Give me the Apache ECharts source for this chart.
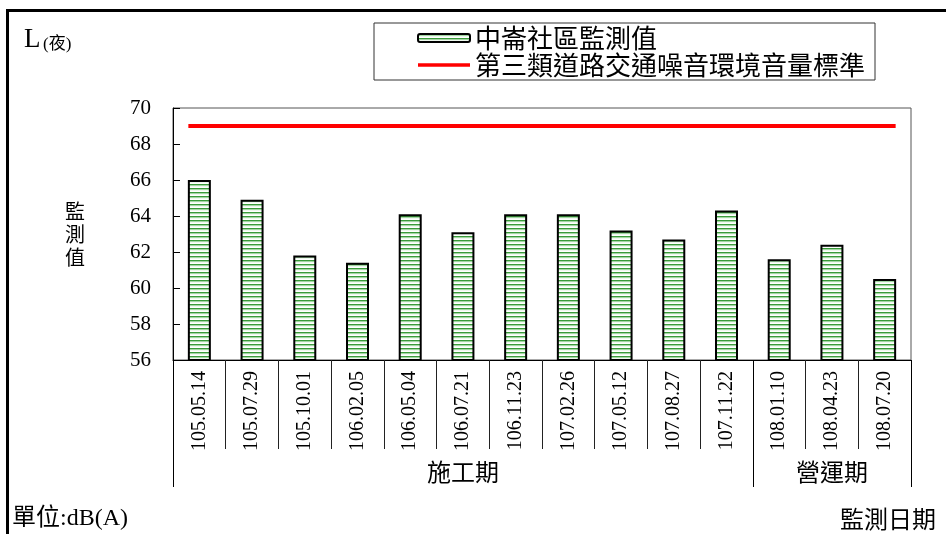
<!DOCTYPE html>
<html>
<head>
<meta charset="utf-8">
<script src="https://cdn.jsdelivr.net/npm/echarts@6/dist/echarts.min.js"></script>
<style>html,body{margin:0;padding:0;background:#fff}#c{width:946px;height:534px}</style>
</head>
<body>
<div id="c"></div>
<script>
var categories = ['105.05.14','105.07.29','105.10.01','106.02.05','106.05.04','106.07.21','106.11.23','107.02.26','107.05.12','107.08.27','107.11.22','108.01.10','108.04.23','108.07.20'];
var measured = [66.0, 64.9, 61.8, 61.4, 64.1, 63.1, 64.1, 64.1, 63.2, 62.7, 64.3, 61.6, 62.4, 60.5];
var standard = [69, 69, 69, 69, 69, 69, 69, 69, 69, 69, 69, 69, 69, 69];
var groupNames = ['施工期', '營運期'];
var groupStarts = [0, 11];
var yTicks = { min: 56, max: 70, interval: 2 };
var seriesNames = ['中崙社區監測值', '第三類道路交通噪音環境音量標準'];

var pat = document.createElement('canvas');
pat.width = 4; pat.height = 4;
var pc = pat.getContext('2d');
var rows = ['#3a9a3a', '#a3d6a3', '#eef8ee', '#ffffff'];
for (var i = 0; i < 4; i++) { pc.fillStyle = rows[i]; pc.fillRect(0, i, 4, 1); }

var serif = '"Liberation Serif", "Noto Sans CJK TC", serif';
var cjk = '"Noto Sans CJK TC", "Liberation Serif", sans-serif';

function groupLabelIndex(g) {
  var s = groupStarts[g];
  var e = g + 1 < groupStarts.length ? groupStarts[g + 1] : categories.length;
  return Math.floor((s + e) / 2);
}
var labelMap = {};
for (var g = 0; g < groupNames.length; g++) labelMap[groupLabelIndex(g)] = groupNames[g];

var chart = echarts.init(document.getElementById('c'), null, { renderer: 'canvas' });
chart.setOption({
  animation: false,
  backgroundColor: '#fff',
  grid: { left: 173, right: 35, top: 108, bottom: 174, show: true, borderColor: '#555', borderWidth: 1, containLabel: false },
  legend: {
    orient: 'vertical',
    left: 374, top: 23,
    padding: [2, 10, 2, 43],
    itemWidth: 52, itemHeight: 8, itemGap: 1,
    backgroundColor: '#fff',
    borderColor: '#333', borderWidth: 1, borderRadius: 0,
    textStyle: { fontFamily: cjk, fontSize: 26, color: '#000' },
    data: [
      { name: seriesNames[0] },
      { name: seriesNames[1], icon: 'path://M0,0H52V3.5H0Z', itemStyle: { color: '#ff0000', borderWidth: 0 } }
    ]
  },
  xAxis: [{
    type: 'category',
    data: categories,
    position: 'bottom',
    axisLine: { show: true, lineStyle: { color: '#000', width: 1 } },
    axisTick: { show: true, length: 89, lineStyle: { color: '#222', width: 1 } },
    axisLabel: { interval: 0, rotate: 90, margin: 11, fontFamily: serif, fontSize: 20, color: '#000' },
    splitLine: { show: false }
  }, {
    type: 'category',
    data: categories,
    position: 'bottom',
    axisLine: { show: false },
    axisTick: {
      show: true, length: 127, lineStyle: { color: '#000', width: 1 },
      interval: function (idx) { return groupStarts.indexOf(idx) >= 0; }
    },
    axisLabel: {
      interval: 0, margin: 100, fontFamily: cjk, fontSize: 24, color: '#000',
      formatter: function (v, idx) { return labelMap[idx] || ''; }
    },
    splitLine: { show: false }
  }],
  yAxis: {
    type: 'value',
    min: yTicks.min, max: yTicks.max, interval: yTicks.interval,
    name: '監\n測\n值',
    nameLocation: 'middle',
    nameRotate: 0,
    nameGap: 88,
    nameTextStyle: { fontFamily: cjk, fontSize: 20, color: '#000', lineHeight: 23, padding: [0, 0, 38, 0] },
    axisLine: { show: true, lineStyle: { color: '#000', width: 1 } },
    axisTick: { show: true, inside: true, length: 7, lineStyle: { color: '#000' } },
    axisLabel: { margin: 22, fontFamily: serif, fontSize: 21, color: '#000' },
    splitLine: { show: false }
  },
  series: [{
    name: seriesNames[0],
    type: 'bar',
    data: measured,
    barWidth: 23,
    itemStyle: { color: { image: pat, repeat: 'repeat' }, borderColor: '#000', borderWidth: 2 },
    emphasis: { disabled: true }
  }, {
    name: seriesNames[1],
    type: 'line',
    data: standard,
    symbol: 'rect',
    symbolSize: [22, 4],
    showSymbol: true,
    lineStyle: { color: '#ff0000', width: 4 },
    itemStyle: { color: '#ff0000' },
    emphasis: { disabled: true },
    z: 5
  }],
  graphic: [
    { type: 'rect', left: 5, top: 8, shape: { width: 1000, height: 600 }, style: { fill: 'none', stroke: '#000', lineWidth: 3 }, z: 100, silent: true },
    { type: 'text', left: 24, top: 26, style: { text: 'L', font: '27px ' + serif, fill: '#000' } },
    { type: 'text', left: 43, top: 36, style: { text: '(夜)', font: '17px ' + serif, fill: '#000' } },
    { type: 'text', left: 12, top: 507, style: { text: '單位:dB(A)', font: '24px ' + serif, fill: '#000' } },
    { type: 'text', right: 10, top: 507, style: { text: '監測日期', font: '24px ' + cjk, fill: '#000' } }
  ]
});
</script>
</body>
</html>
